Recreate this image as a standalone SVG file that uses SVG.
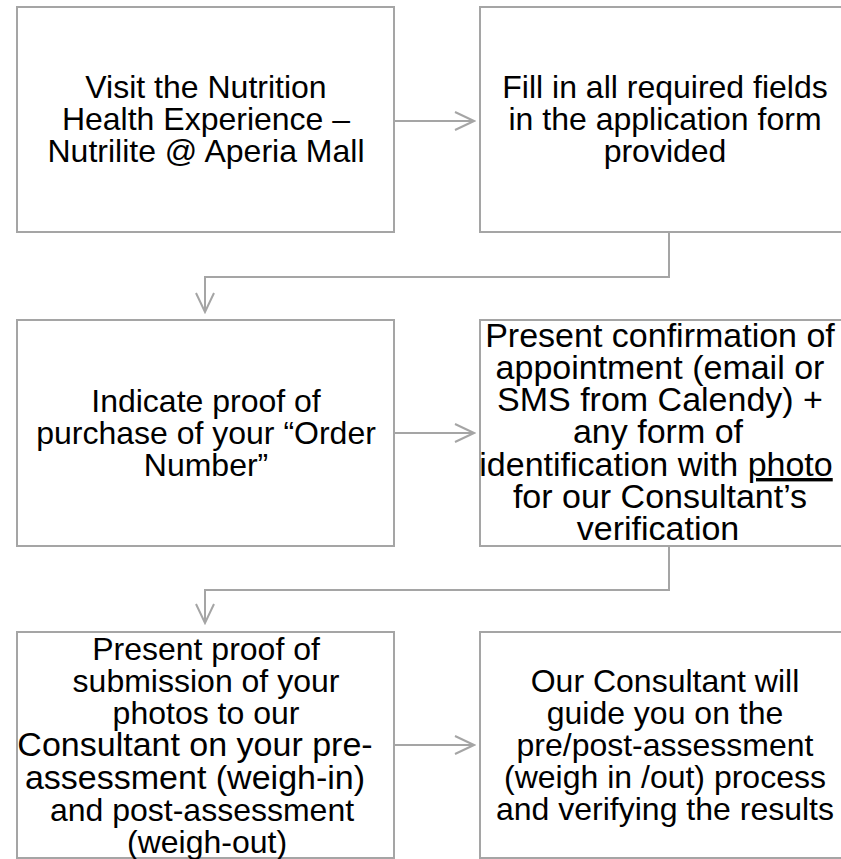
<svg xmlns="http://www.w3.org/2000/svg" width="841" height="859" viewBox="0 0 841 859">
<defs>
<style>
.box{fill:#ffffff;stroke:#a5a5a5;stroke-width:2}
.conn{fill:none;stroke:#a5a5a5;stroke-width:2}
.t{font-family:"Liberation Sans",Arial,sans-serif;font-size:32px;fill:#000000;text-anchor:middle}
.big{font-size:34px}
</style>
<marker id="arr" markerUnits="userSpaceOnUse" markerWidth="24" markerHeight="24" viewBox="-22 -12 24 24" refX="0" refY="0" orient="auto">
<path d="M-19,-9 L0,0 L-19,9" fill="none" stroke="#a5a5a5" stroke-width="2"/>
</marker>
</defs>
<rect width="841" height="859" fill="#ffffff"/>
<g id="connectors">
<path class="conn" d="M394,121 H474" marker-end="url(#arr)"/>
<path class="conn" d="M669,233 V277 H205 V312" marker-end="url(#arr)"/>
<path class="conn" d="M394,433 H474" marker-end="url(#arr)"/>
<path class="conn" d="M669,547 V590 H205 V623" marker-end="url(#arr)"/>
<path class="conn" d="M394,745 H474" marker-end="url(#arr)"/>
</g>
<g id="node1">
<rect class="box" x="17" y="7" width="377" height="225"/>
<text class="t" x="206" y="98">Visit the Nutrition</text>
<text class="t" x="206" y="130">Health Experience –</text>
<text class="t" x="206" y="162">Nutrilite @ Aperia Mall</text>
</g>
<g id="node2">
<rect class="box" x="480" y="7" width="377" height="225"/>
<text class="t" x="665" y="98">Fill in all required fields</text>
<text class="t" x="665" y="130">in the application form</text>
<text class="t" x="665" y="162">provided</text>
</g>
<g id="node3">
<rect class="box" x="17" y="320" width="377" height="226"/>
<text class="t" x="206" y="412">Indicate proof of</text>
<text class="t" x="206" y="444">purchase of your “Order</text>
<text class="t" x="206" y="476">Number”</text>
</g>
<g id="node4">
<rect class="box" x="480" y="320" width="377" height="226"/>
<text class="t big" x="660" y="347">Present confirmation of</text>
<text class="t big" x="660" y="379">appointment (email or</text>
<text class="t big" x="660" y="411">SMS from Calendy) +</text>
<text class="t big" x="658" y="443">any form of</text>
<text class="t big" x="656" y="476">identification with <tspan text-decoration="underline">photo</tspan></text>
<text class="t big" x="660" y="508">for our Consultant’s</text>
<text class="t big" x="658" y="540">verification</text>
</g>
<g id="node5">
<rect class="box" x="17" y="632" width="377" height="226"/>
<text class="t" x="206" y="660">Present proof of</text>
<text class="t" x="206" y="692">submission of your</text>
<text class="t" x="206" y="724">photos to our</text>
<text class="t big" x="195" y="756">Consultant on your pre-</text>
<text class="t big" x="195" y="789">assessment (weigh-in)</text>
<text class="t" x="202" y="821">and post-assessment</text>
<text class="t" x="207" y="853">(weigh-out)</text>
</g>
<g id="node6">
<rect class="box" x="480" y="632" width="377" height="226"/>
<text class="t" x="665" y="692">Our Consultant will</text>
<text class="t" x="665" y="724">guide you on the</text>
<text class="t" x="665" y="756">pre/post-assessment</text>
<text class="t" x="665" y="788">(weigh in /out) process</text>
<text class="t" x="665" y="820">and verifying the results</text>
</g>
</svg>
